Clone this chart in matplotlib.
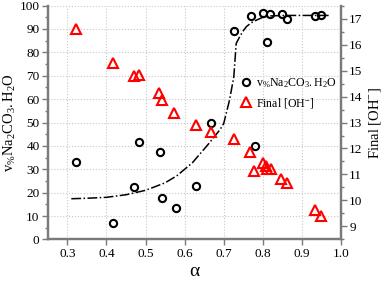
import matplotlib.pyplot as plt
from matplotlib.ticker import MultipleLocator
from matplotlib.lines import Line2D

plt.rcParams['font.family'] = ['Liberation Serif', 'DejaVu Serif']
plt.rcParams['mathtext.fontset'] = 'stix'

# circles: v% Na2CO3.H2O (left axis)
alpha_na = [0.322, 0.416, 0.470, 0.482, 0.536, 0.542, 0.577, 0.628, 0.668, 0.726,
            0.771, 0.779, 0.801, 0.811, 0.818, 0.849, 0.862, 0.935, 0.949]
vol_na = [33.3, 7.0, 22.4, 41.8, 37.4, 17.9, 13.4, 22.8, 49.8, 89.3,
          95.6, 39.8, 97.0, 84.4, 96.6, 96.6, 94.4, 95.4, 96.2]

# triangles: final [OH-] (right axis)
alpha_oh = [0.322, 0.416, 0.470, 0.483, 0.534, 0.541, 0.574, 0.628, 0.668, 0.726,
            0.768, 0.778, 0.801, 0.808, 0.812, 0.821, 0.848, 0.862, 0.935, 0.949]
final_oh = [16.59, 15.31, 14.79, 14.84, 14.15, 13.87, 13.38, 12.89, 12.63, 12.38,
            11.87, 11.14, 11.45, 11.33, 11.20, 11.22, 10.83, 10.68, 9.63, 9.41]

# dash-dot fit curve (left axis)
fit_x = [0.31, 0.35, 0.40, 0.45, 0.50, 0.55, 0.58, 0.62, 0.66, 0.69, 0.70,
         0.715, 0.726, 0.732, 0.741, 0.75, 0.758, 0.77, 0.784, 0.80, 0.82, 0.86,
         0.92, 0.97]
fit_y = [17.4, 17.6, 18.0, 19.1, 21.0, 24.2, 27.2, 32.8, 40.6, 46.8, 49.5,
         59.6, 69.6, 83.8, 86.7, 89.2, 91.0, 92.6, 93.8, 95.0, 95.6, 95.8,
         95.8, 95.8]

fig, ax = plt.subplots(figsize=(3.83, 2.81), dpi=100)
fig.subplots_adjust(left=0.125, right=0.890, bottom=0.148, top=0.980)
ax2 = ax.twinx()

spine_col = '#7a7a7a'

ax.plot(fit_x, fit_y, color='black', linestyle='-.', linewidth=1.1, zorder=2)
ax.plot(alpha_na, vol_na, linestyle='none', marker='o', markersize=5.2,
        markerfacecolor='none', markeredgecolor='black', markeredgewidth=1.5, zorder=3)
ax2.plot(alpha_oh, final_oh, linestyle='none', marker='^', markersize=6.5,
         markerfacecolor='none', markeredgecolor='#ff0000', markeredgewidth=1.5, zorder=3)

ax.set_xlim(0.25, 1.0)
ax.set_ylim(0, 100)
ax2.set_ylim(8.5, 17.5)

ax.yaxis.set_major_locator(MultipleLocator(10))
ax.yaxis.set_minor_locator(MultipleLocator(5))
ax2.yaxis.set_major_locator(MultipleLocator(1))
ax2.yaxis.set_minor_locator(MultipleLocator(0.5))
ax.set_xticks([0.3, 0.4, 0.5, 0.6, 0.7, 0.8, 0.9, 1.0])
ax.set_xticklabels(['0.3', '0.4', '0.5', '0.6', '0.7', '0.8', '0.9', '1.0'])

ax.grid(True, color='#c8c8c8', linestyle=':', linewidth=0.8)

for a in (ax, ax2):
    a.spines['top'].set_visible(False)
    for s in ('left', 'right', 'bottom'):
        a.spines[s].set_color(spine_col)
        a.spines[s].set_linewidth(1.6)
    a.tick_params(which='major', direction='out', length=4, width=1.0,
                  color=spine_col, labelsize=9.5, labelcolor='black', pad=2)
    a.tick_params(which='minor', direction='out', length=2, width=1.0, color=spine_col)

ax.set_xlabel('α', fontsize=14, labelpad=2)
ax.set_ylabel(r'$\mathregular{v_{\%}Na_2CO_3.H_2O}$', fontsize=10.5, labelpad=1)
ax2.set_ylabel(r'Final [OH$^{\mathregular{-}}$]', fontsize=10.5, labelpad=3)

handles = [
    Line2D([], [], linestyle='none', marker='o', markersize=5.2, markerfacecolor='none',
           markeredgecolor='black', markeredgewidth=1.5),
    Line2D([], [], linestyle='none', marker='^', markersize=6.5, markerfacecolor='none',
           markeredgecolor='#ff0000', markeredgewidth=1.5),
]
labels = [r'$\mathregular{v_{\%}Na_2CO_3.H_2O}$', r'Final [OH$^{\mathregular{-}}$]']
ax2.legend(handles, labels, loc='upper left', bbox_to_anchor=(0.64, 0.72),
           frameon=False, fontsize=8.6, handletextpad=0.3, borderaxespad=0,
           handlelength=1.0, labelspacing=0.5)

fig.savefig('out.png', dpi=100)
